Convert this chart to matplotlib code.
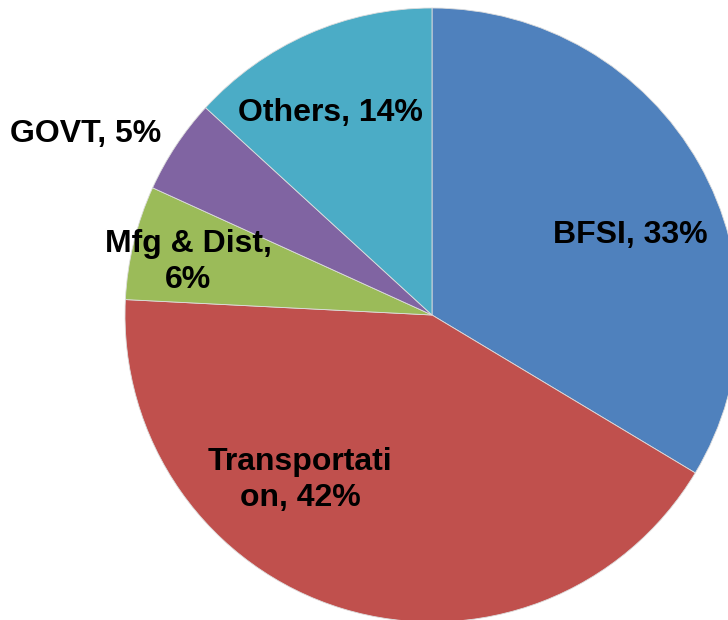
import matplotlib
matplotlib.use('Agg')
import matplotlib.pyplot as plt

sectores = ['BFSI', 'Transportation', 'Mfg & Dist', 'GOVT', 'Others']
valores = [33.6, 42.2, 6.0, 5.0, 13.2]
etiquetas = ['BFSI, 33%', 'Transportati\non, 42%', 'Mfg & Dist,\n6%', 'GOVT, 5%', 'Others, 14%']
colores = ['#4F81BD', '#C0504D', '#9BBB59', '#8064A2', '#4BACC6']

# posiciones de etiquetas en pixeles de la imagen (x, y desde arriba)
pos_etiquetas = [(630, 235), (300, 480), (188, 262), (86, 134), (330, 113)]

W, H = 728, 620
fig = plt.figure(figsize=(W / 100, H / 100), dpi=100)
ax = fig.add_axes([0, 0, 1, 1])
ax.set_xlim(0, W)
ax.set_ylim(0, H)
ax.set_aspect('equal')
ax.axis('off')

ax.pie(valores, colors=colores, startangle=90, counterclock=False,
       center=(432, H - 315), radius=307,
       wedgeprops={'linewidth': 0.6, 'edgecolor': '#dddddd'})
ax.set_xlim(0, W)
ax.set_ylim(0, H)

for txt, (x, y) in zip(etiquetas, pos_etiquetas):
    ax.text(x, H - y, txt, ha='center', va='center', multialignment='center',
            fontsize=23, fontweight='bold', family='Liberation Sans',
            linespacing=1.22, color='black')

fig.savefig('out.png', dpi=100)
